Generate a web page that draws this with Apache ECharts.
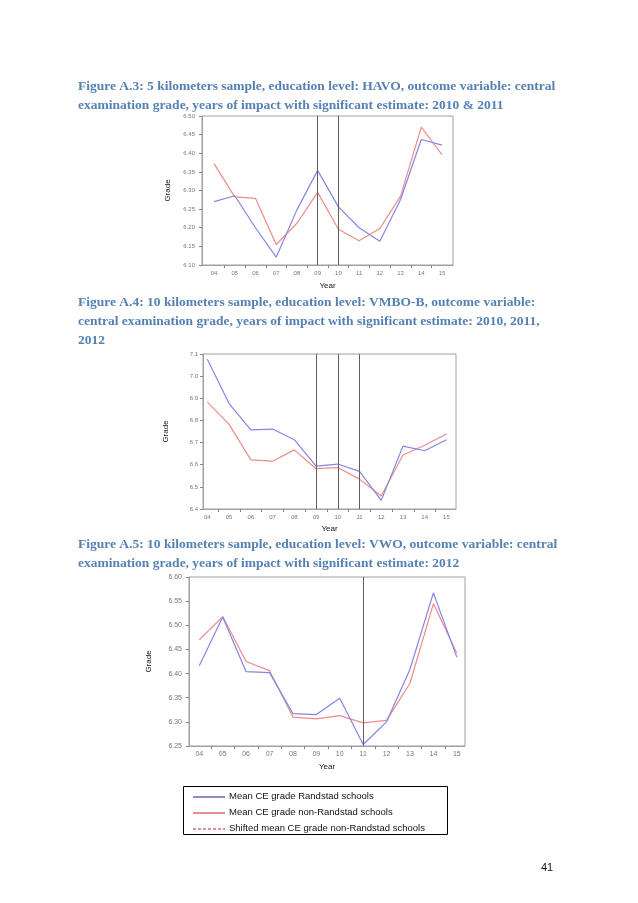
<!DOCTYPE html>
<html><head><meta charset="utf-8">
<script src="https://cdn.jsdelivr.net/npm/echarts@6/dist/echarts.min.js"></script>
<style>html,body{margin:0;padding:0;background:#fff}#c{width:638px;height:903px}</style>
</head><body><div id="c"></div>
<script>
const years = ['04','05','06','07','08','09','10','11','12','13','14','15'];

// Figure A.3 (HAVO, 5 km)
const havoRandstad    = [6.270,6.286,6.200,6.121,6.248,6.354,6.256,6.200,6.164,6.276,6.437,6.422];
const havoNonRandstad = [6.372,6.283,6.279,6.155,6.212,6.295,6.196,6.165,6.198,6.285,6.470,6.396];
const havoImpact = ['09','10'];

// Figure A.4 (VMBO-B, 10 km)
const vmboRandstad    = [7.076,6.876,6.757,6.761,6.713,6.594,6.603,6.570,6.439,6.684,6.663,6.713];
const vmboNonRandstad = [6.883,6.782,6.622,6.616,6.667,6.582,6.587,6.535,6.459,6.644,6.688,6.739];
const vmboImpact = ['09','10','11'];

// Figure A.5 (VWO, 10 km)
const vwoRandstad    = [6.416,6.517,6.404,6.402,6.317,6.315,6.349,6.253,6.300,6.409,6.567,6.434];
const vwoNonRandstad = [6.470,6.518,6.425,6.406,6.310,6.306,6.313,6.298,6.303,6.380,6.545,6.442];
const vwoImpact = ['11'];

const titles = [
  ['Figure A.3: 5 kilometers sample, education level: HAVO, outcome variable: central',
   'examination grade, years of impact with significant estimate: 2010 & 2011'],
  ['Figure A.4: 10 kilometers sample, education level: VMBO-B, outcome variable:',
   'central examination grade, years of impact with significant estimate: 2010, 2011,',
   '2012'],
  ['Figure A.5: 10 kilometers sample, education level: VWO, outcome variable: central',
   'examination grade, years of impact with significant estimate: 2012']
];
const legendLabels = ['Mean CE grade Randstad schools','Mean CE grade non-Randstad schools','Shifted mean CE grade non-Randstad schools'];

const panels = [
  {grid:{left:202,top:116,width:251,height:149}, xmin:-0.58, xmax:11.53, ymin:6.10, ymax:6.50, yint:0.05, dec:2, fs:6, ym:7, gradeGap:30, yearGap:17,
   a:havoRandstad, b:havoNonRandstad, imp:havoImpact},
  {grid:{left:203,top:354,width:253,height:155}, xmin:-0.2, xmax:11.44, ymin:6.4, ymax:7.1, yint:0.1, dec:1, fs:6, ym:5, gradeGap:33, yearGap:16,
   a:vmboRandstad, b:vmboNonRandstad, imp:vmboImpact},
  {grid:{left:189,top:577,width:276,height:169}, xmin:-0.44, xmax:11.35, ymin:6.25, ymax:6.60, yint:0.05, dec:2, fs:7, ym:7, gradeGap:36, yearGap:17,
   a:vwoRandstad, b:vwoNonRandstad, imp:vwoImpact}
];

const idx = years.map((_,i)=>i);
const half = years.slice(0,-1).map((_,i)=>i+0.5);

const grids=[], xAxes=[], yAxes=[], series=[];
panels.forEach((p,k)=>{
  grids.push(Object.assign({show:true,borderColor:'#a0a0a0',borderWidth:1,backgroundColor:'#fff'},p.grid));
  xAxes.push({type:'value',gridIndex:k,min:p.xmin,max:p.xmax,splitLine:{show:false},
    axisLine:{show:true,onZero:false,lineStyle:{color:'#a0a0a0'}},
    axisTick:{show:true,customValues:half,length:3,lineStyle:{color:'#888'}},
    axisLabel:{customValues:idx,formatter:v=>years[Math.round(v)],fontSize:p.fs,color:'#777',margin:5,fontFamily:'Liberation Sans'},
    name:'Year',nameLocation:'middle',nameGap:p.yearGap,nameTextStyle:{fontSize:8,color:'#111',fontFamily:'Liberation Sans'}});
  yAxes.push({type:'value',gridIndex:k,min:p.ymin,max:p.ymax,interval:p.yint,splitLine:{show:false},
    axisLine:{show:true,onZero:false,lineStyle:{color:'#a0a0a0'}},
    axisTick:{show:true,length:3,lineStyle:{color:'#888'}},
    axisLabel:{formatter:v=>v.toFixed(p.dec),fontSize:p.fs,color:'#777',margin:p.ym,fontFamily:'Liberation Sans'},
    name:'Grade',nameLocation:'middle',nameRotate:90,nameGap:p.gradeGap,nameTextStyle:{fontSize:8,color:'#111',fontFamily:'Liberation Sans'}});
  series.push({type:'line',xAxisIndex:k,yAxisIndex:k,data:p.a.map((v,i)=>[i,v]),symbol:'none',z:3,
    lineStyle:{color:'#8585e6',width:1.2},
    markLine:{silent:true,symbol:'none',label:{show:false},animation:false,
      lineStyle:{color:'#606060',width:1,type:'solid'},
      data:p.imp.map(y=>({xAxis:years.indexOf(y)}))}});
  series.push({type:'line',xAxisIndex:k,yAxisIndex:k,data:p.b.map((v,i)=>[i,v]),symbol:'none',z:2,
    lineStyle:{color:'#f08a8a',width:1.2}});
});

const graphics=[];
const titleY=[80,296,538];
titles.forEach((lines,k)=>{
  lines.forEach((t,j)=>{
    graphics.push({type:'text',left:78,top:titleY[k]+j*19,style:{text:t,fill:'#5581b4',font:'bold 13.5px "Liberation Serif"'}});
  });
});
// legend box
graphics.push({type:'rect',shape:{x:183.5,y:786.5,width:264,height:48},style:{fill:'#fff',stroke:'#000',lineWidth:1}});
const legColors=['#1a1a80','#c02020','#c02020'];
legendLabels.forEach((t,j)=>{
  const y=797+j*16;
  graphics.push({type:'line',shape:{x1:193,y1:y,x2:225,y2:y},style:{stroke:legColors[j],lineWidth:1,lineDash:j===2?[3,2]:null}});
  graphics.push({type:'text',left:229,top:y-6,style:{text:t,fill:'#111',font:'9.5px "Liberation Sans"'}});
});
graphics.push({type:'text',left:541,top:862,style:{text:'41',fill:'#111',font:'11px "Liberation Sans"'}});

const chart=echarts.init(document.getElementById('c'),null,{renderer:'canvas'});
chart.setOption({animation:false,backgroundColor:'#fff',grid:grids,xAxis:xAxes,yAxis:yAxes,series:series,graphic:graphics});
</script></body></html>
